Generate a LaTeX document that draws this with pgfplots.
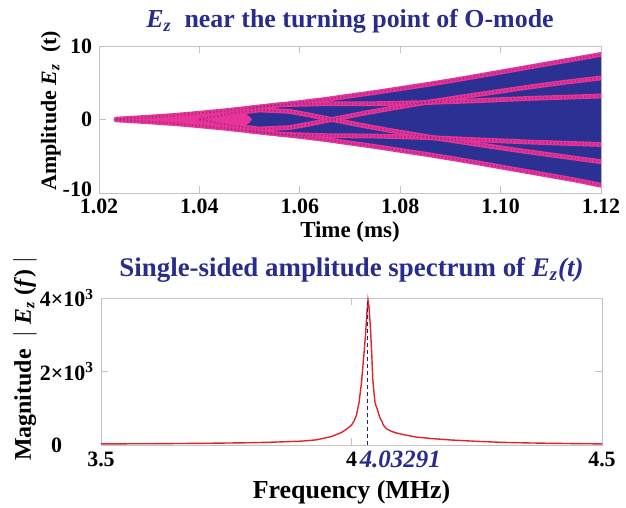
\documentclass[border=0pt]{standalone}
\usepackage{fontspec}
\setmainfont{Liberation Serif}
\usepackage{pgfplots}
\pgfplotsset{compat=1.18}
\usepackage{pgfplotstable}
\definecolor{sigblue}{RGB}{43,49,146}
\definecolor{mkpink}{RGB}{232,52,152}
\definecolor{mkdark}{RGB}{140,35,120}
\definecolor{ttlblue}{RGB}{40,44,140}
\definecolor{frame}{RGB}{195,195,195}
\definecolor{specred}{RGB}{225,35,45}

\pgfplotsset{
  every axis title shift=0pt,
  mat/.style={scale only axis, axis line style={frame,line width=0.4pt},
    tick style={frame,line width=0.4pt}, major tick length=3.5bp, tick align=inside,
    ticklabel style={font=\fontsize{11}{12}\selectfont\bfseries,text=black},
    xticklabel style={anchor=base,yshift=-10.5bp},
    label style={font=\fontsize{12}{13}\selectfont\bfseries},
    title style={font=\fontsize{13}{14}\selectfont\bfseries,text=ttlblue,anchor=base}},
  pband/.style={mkpink,line width=2.4bp,line cap=round,line join=round},
  pdots/.style={mkdark,opacity=0.6,line width=1.1bp,dash pattern=on 0.7bp off 1.1bp}
}

% envelope of E_z(t)
\pgfplotstableread{
t      up     lo
1.0234 0.05  -0.05
1.026  0.15  -0.15
1.030  0.32  -0.32
1.035  0.55  -0.55
1.040  0.85  -0.85
1.045  1.18  -1.18
1.050  1.55  -1.55
1.055  1.92  -1.92
1.060  2.30  -2.30
1.065  2.72  -2.72
1.070  3.20  -3.20
1.075  3.68  -3.68
1.080  4.20  -4.20
1.085  4.72  -4.72
1.090  5.27  -5.27
1.095  5.85  -5.85
1.100  6.45  -6.45
1.105  7.05  -7.05
1.110  7.65  -7.65
1.115  8.25  -8.25
1.120  8.85  -8.95
}\envtab

% closed outline of the dense oscillation (upper envelope, then lower envelope back)
\pgfplotstableread{
t      v
1.0234 0.05
1.030  0.32
1.040  0.85
1.050  1.55
1.060  2.30
1.070  3.20
1.080  4.20
1.090  5.27
1.100  6.45
1.110  7.65
1.120  8.85
1.120 -8.95
1.110 -7.65
1.100 -6.45
1.090 -5.27
1.080 -4.20
1.070 -3.20
1.060 -2.30
1.050 -1.55
1.040 -0.85
1.030 -0.32
1.0234 -0.05
}\bluetab

% early part, where the sampled points overlap completely
\pgfplotstableread{
t      v
1.0234 0.05
1.026  0.15
1.030  0.32
1.035  0.55
1.040  0.85
1.045  1.18
1.047  1.30
1.049  0.90
1.050  0.40
1.0505 0.00
1.050 -0.40
1.049 -0.90
1.047 -1.30
1.045 -1.18
1.040 -0.85
1.035 -0.55
1.030 -0.32
1.026 -0.15
1.0234 -0.05
}\pinktab

\pgfplotstableread{
t      a      b
1.040  0.00   0.00
1.046  0.80  -0.80
1.052  1.30  -1.30
1.058  1.10  -1.10
1.062  0.60  -0.60
1.0664 0.00   0.00
1.072 -0.75   0.75
1.078 -1.50   1.50
1.085 -2.30   2.30
1.095 -3.35   3.35
1.105 -4.35   4.35
1.112 -5.00   5.00
1.120 -5.75   5.65
}\crosstab

\pgfplotstableread{
t      a      b
1.050  1.55  -1.55
1.056  2.00  -2.00
1.065  2.15  -2.20
1.075  2.15  -2.25
1.085  2.30  -2.45
1.095  2.55  -2.75
1.105  2.85  -3.05
1.120  3.20  -3.40
}\flattab

\pgfplotstableread{
f      m
3.50   30
3.60   35
3.70   45
3.80   62
3.85   80
3.90  105
3.93  140
3.96  230
3.98  340
3.99  430
4.000 540
4.005 650
4.010 820
4.015 1150
4.020 1700
4.025 2500
4.028 3000
4.031 3650
4.0329 3950
4.035 3750
4.038 3150
4.0405 2450
4.0425 1800
4.045 1400
4.047 1150
4.049 1060
4.051 1000
4.053 900
4.056 770
4.059 680
4.061 640
4.063 560
4.066 500
4.070 440
4.080 370
4.090 325
4.110 265
4.130 215
4.160 175
4.200 135
4.250 100
4.300 72
4.350 57
4.400 46
4.450 37
4.500 30
}\spectab

\begin{document}
\begin{tikzpicture}
\useasboundingbox (0,0) rectangle (313bp,254bp);

\begin{axis}[mat, at={(49.5bp,157.5bp)}, anchor=south west, width=251bp, height=73.5bp,
  xmin=1.02, xmax=1.12, ymin=-10, ymax=10,
  xtick={1.02,1.04,1.06,1.08,1.10,1.12}, xticklabels={1.02,1.04,1.06,1.08,1.10,1.12},
  ytick={-10,0,10}, yticklabels={\raisebox{3.5bp}{-10},0,10},
  xlabel={Time (ms)},
  xlabel style={at={(axis description cs:0.5,0)},anchor=base,yshift=-22.5bp,font=\fontsize{11.5}{12}\selectfont\bfseries},
  ylabel={Amplitude \textit{E}\textsubscript{\textit{z}}\ \ (t)},
  ylabel style={at={(axis description cs:-0.096,0.56)},anchor=center,font=\fontsize{11}{12}\selectfont\bfseries},
  title={\textit{E}\textsubscript{\textit{z}}\ \ near the turning point of O-mode},
  title style={at={(axis description cs:0.5,1)},yshift=9bp}]
\addplot[fill=sigblue,draw=none] table[x=t,y=v] {\bluetab} \closedcycle;
\addplot[fill=mkpink,draw=none] table[x=t,y=v] {\pinktab} \closedcycle;
% sampled curves
\addplot[pband] table[x=t,y=a] {\crosstab};
\addplot[pband] table[x=t,y=b] {\crosstab};
\addplot[pband] table[x=t,y=a] {\flattab};
\addplot[pband] table[x=t,y=b] {\flattab};
\addplot[pband] table[x=t,y=up] {\envtab};
\addplot[pband] table[x=t,y=lo] {\envtab};
\addplot[pdots] table[x=t,y=a] {\crosstab};
\addplot[pdots] table[x=t,y=b] {\crosstab};
\addplot[pdots] table[x=t,y=a] {\flattab};
\addplot[pdots] table[x=t,y=b] {\flattab};
\addplot[pdots] table[x=t,y=up] {\envtab};
\addplot[pdots] table[x=t,y=lo] {\envtab};
\end{axis}

\begin{axis}[mat, at={(50.5bp,31.5bp)}, anchor=south west, width=250.5bp, height=73.5bp,
  xmin=3.5, xmax=4.5, ymin=0, ymax=4000, clip=false,
  xtick={3.5,4,4.5}, xticklabels={3.5,4,4.5},
  ytick={0,2000,4000}, yticklabels={0\hspace*{16bp},2×10\textsuperscript{3},4×10\textsuperscript{3}},
  xlabel={Frequency (MHz)},
  xlabel style={at={(axis description cs:0.5,0)},anchor=base,yshift=-26.5bp,font=\fontsize{13}{14}\selectfont\bfseries},
  ylabel={Magnitude \ $|$\ \textit{E}\textsubscript{\textit{z}}\ (\textit{f})\ $|$},
  ylabel style={at={(axis description cs:-0.152,0.585)},anchor=center},
  title={Single-sided amplitude spectrum of \textit{E\textsubscript{z}(t)}},
  title style={at={(axis description cs:0.5,1)},yshift=11bp,font=\fontsize{13.5}{15}\selectfont\bfseries}]
\addplot[specred,line width=0.7pt] table[x=f,y=m] {\spectab};
\addplot[ttlblue!80!black,line width=0.5pt,dash pattern=on 2bp off 1.5bp] coordinates {(4.03291,0) (4.03291,3900)};
\node[anchor=base west,inner sep=0pt,text=ttlblue,font=\fontsize{12.5}{13}\selectfont\bfseries\itshape] at (axis cs:4.0157,0) [yshift=-11bp] {4.03291};
\end{axis}
\end{tikzpicture}
\end{document}
